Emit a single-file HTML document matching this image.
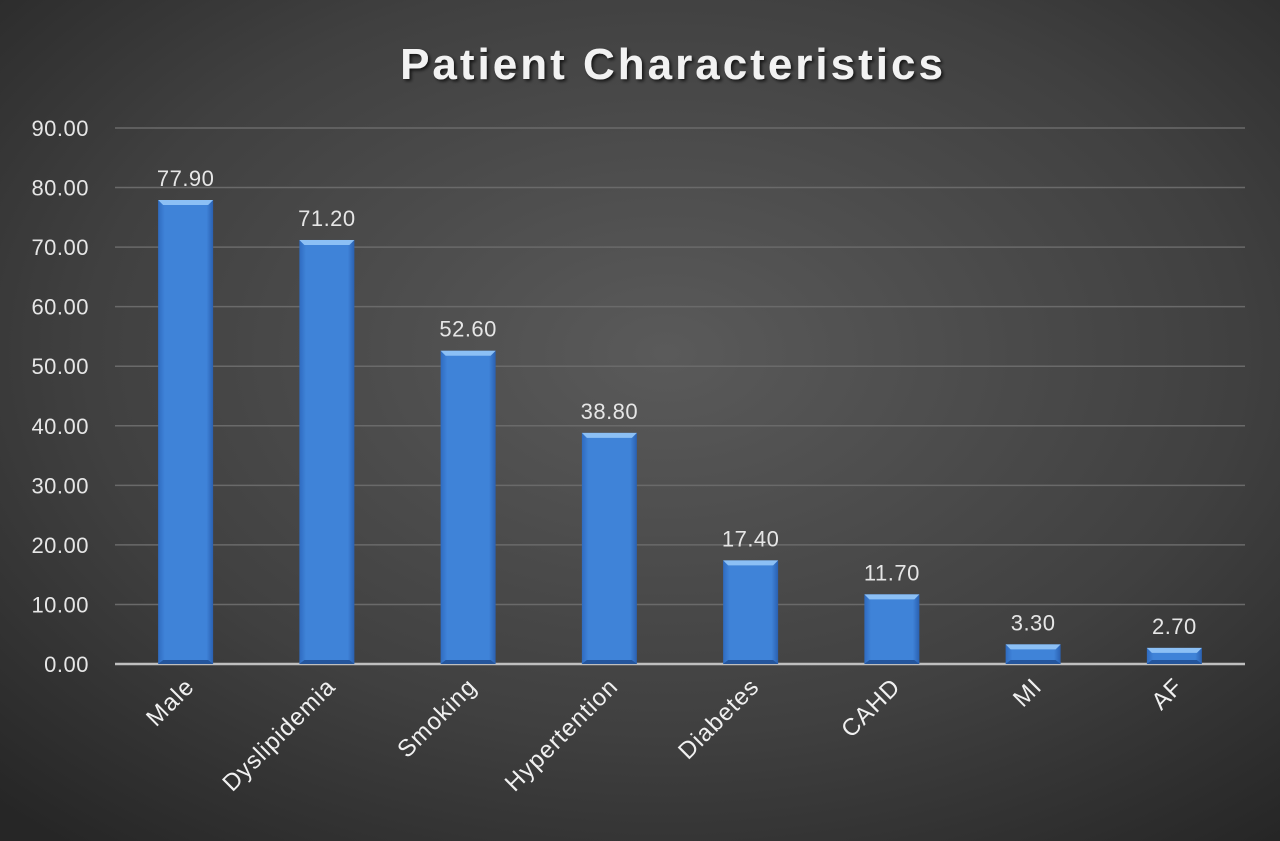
<!DOCTYPE html>
<html><head><meta charset="utf-8"><style>
html,body{margin:0;padding:0;width:1280px;height:841px;overflow:hidden;background:#333}
svg{display:block}
</style></head><body>
<svg width="1280" height="841" font-family="'Liberation Sans', sans-serif">
<defs>
<radialGradient id="bg" cx="0.52" cy="0.42" r="0.75">
<stop offset="0" stop-color="#5a5a5a"/><stop offset="0.6" stop-color="#404040"/><stop offset="1" stop-color="#262626"/>
</radialGradient>
<linearGradient id="barg" x1="0" y1="0" x2="1" y2="0">
<stop offset="0" stop-color="#2f6bc0"/><stop offset="0.12" stop-color="#3f83d8"/><stop offset="0.88" stop-color="#3f83d8"/><stop offset="1" stop-color="#2a60b0"/>
</linearGradient>
<filter id="sh"><feDropShadow dx="2" dy="2" stdDeviation="1.5" flood-color="#000" flood-opacity="0.7"/></filter>
</defs>
<rect width="1280" height="841" fill="url(#bg)"/>
<text x="673" y="79" text-anchor="middle" font-size="44" font-weight="bold" fill="#f2f2f2" letter-spacing="3" filter="url(#sh)">Patient Characteristics</text>
<g id="grid"></g><g id="bars"></g><g id="labels"></g>
</svg>
<script>
const categories=["Male","Dyslipidemia","Smoking","Hypertention","Diabetes","CAHD","MI","AF"];
const values=[77.9,71.2,52.6,38.8,17.4,11.7,3.3,2.7];
const ticks=[0,10,20,30,40,50,60,70,80,90];
const NS="http://www.w3.org/2000/svg";
const x0=115,x1=1245,yBase=664,yTop=128,maxV=90;
const bw=(x1-x0)/categories.length;
const y=v=>yBase-(v/maxV)*(yBase-yTop);
const xc=i=>x0+bw*(i+0.5);
function mk(t,a,p){const e=document.createElementNS(NS,t);for(const k in a)e.setAttribute(k,a[k]);p.appendChild(e);return e;}
const grid=document.getElementById('grid'),bars=document.getElementById('bars'),labels=document.getElementById('labels');
ticks.forEach(t=>{
 const l=mk('line',{x1:x0,x2:x1,y1:y(t),y2:y(t),stroke:t===0?'#bfbfbf':'#6a6a6a','stroke-width':t===0?2.5:1.5},grid);
 
 
 const tx=mk('text',{x:89,y:y(t)+8,'text-anchor':'end','font-size':22,'letter-spacing':0.5,fill:'#e6e6e6'},grid);
 tx.textContent=t.toFixed(2);
 
 
});
categories.forEach((c,i)=>{
 const w=55,cx=xc(i),top=y(values[i]),h=yBase-top;
 const g=mk('g',{},bars);
 
 
 mk('rect',{x:cx-w/2,y:top,width:w,height:h,fill:'url(#barg)'},g);
 mk('polygon',{points:`${cx-w/2},${top} ${cx+w/2},${top} ${cx+w/2-5},${top+5} ${cx-w/2+5},${top+5}`,fill:'#8cc0f5'},g);
 mk('polygon',{points:`${cx-w/2},${yBase} ${cx+w/2},${yBase} ${cx+w/2-5},${yBase-4} ${cx-w/2+5},${yBase-4}`,fill:'#24559c'},g);
 const v=mk('text',{x:cx,y:top-14,'text-anchor':'middle','font-size':22,'letter-spacing':0.5,fill:'#e6e6e6'},labels);
 v.textContent=values[i].toFixed(2);
 
 
 const lx=cx+10,ly=688;
 const t=mk('text',{x:lx,y:ly,'text-anchor':'end','font-size':24,'letter-spacing':1,fill:'#f0f0f0',transform:`rotate(-45 ${lx} ${ly})`},labels);
 t.textContent=c;
 
 
});
</script>
</body></html>
